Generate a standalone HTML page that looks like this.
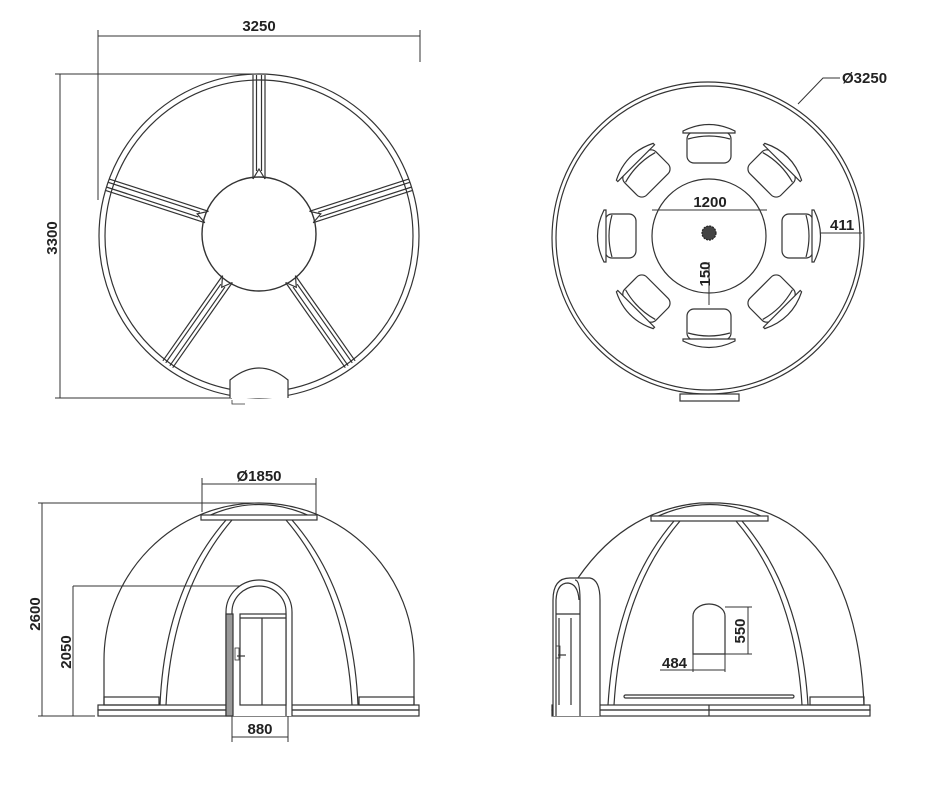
<!DOCTYPE html>
<html><head><meta charset="utf-8"><style>
html,body{margin:0;padding:0;background:#fff;}
svg{display:block;}
text{font-family:"Liberation Sans",Arial,sans-serif;font-weight:bold;font-size:15px;fill:#222;}
</style></head><body>
<svg width="941" height="787" viewBox="0 0 941 787" xmlns="http://www.w3.org/2000/svg">
<defs>
<g id="chair" fill="#fff" stroke="#333" stroke-width="1.2">
<rect x="-22" y="-13" width="44" height="31" rx="7"/>
<path d="M-26,-14 Q0,-27 26,-14 L26,-12 L-26,-12 Z"/>
<path d="M-21,-6 Q0,-12 21,-6" fill="none"/>
</g>
<g id="spoke" stroke="#333" stroke-width="1.2" fill="none">
<line x1="-6" y1="0" x2="-6" y2="-104"/>
<line x1="6" y1="0" x2="6" y2="-104"/>
<line x1="-2.5" y1="-8" x2="-2.5" y2="-104"/>
<line x1="2.5" y1="-8" x2="2.5" y2="-104"/>
<path d="M-6,0 L0,-10 L6,0"/>
</g>
</defs>
<g stroke="#333" fill="none" stroke-width="1.2">
<!-- TOP LEFT PLAN -->
<line x1="98" y1="36" x2="420" y2="36" stroke-width="1"/>
<line x1="98" y1="30" x2="98" y2="200" stroke-width="1"/>
<line x1="420" y1="30" x2="420" y2="62" stroke-width="1"/>
<line x1="60" y1="74" x2="60" y2="398" stroke-width="1"/>
<line x1="55" y1="74" x2="259" y2="74" stroke-width="1"/>
<line x1="55" y1="398" x2="232" y2="398" stroke-width="1"/>
<ellipse cx="259" cy="236" rx="160" ry="162"/>
<ellipse cx="259" cy="236" rx="154" ry="156"/>
<circle cx="259" cy="234" r="57" stroke-width="1.4"/>
<g transform="translate(259,234) rotate(0) translate(0,-55)"><use href="#spoke"/></g>
<g transform="translate(259,234) rotate(-72) translate(0,-55)"><use href="#spoke"/></g>
<g transform="translate(259,234) rotate(72) translate(0,-55)"><use href="#spoke"/></g>
<g transform="translate(259,234) rotate(-145) translate(0,-55)"><use href="#spoke"/></g>
<g transform="translate(259,234) rotate(145) translate(0,-55)"><use href="#spoke"/></g>
<path d="M230,398 L230,380 Q259,356 288,380 L288,398" fill="#fff"/>
<path d="M232,400 L232,404 L245,404" stroke-width="0.8"/>
<!-- TOP RIGHT PLAN -->
<circle cx="708" cy="238" r="156"/>
<circle cx="708" cy="238" r="152"/>
<circle cx="709" cy="236" r="57"/>
<rect x="680" y="394" width="59" height="7" fill="#fff"/>
<path d="M798,104 L823,78 L840,78" stroke-width="1"/>
<line x1="652" y1="210" x2="767" y2="210" stroke-width="1"/>
<line x1="709" y1="262" x2="709" y2="305" stroke-width="1"/>
<line x1="815" y1="233" x2="862" y2="233" stroke-width="1"/>
<g transform="translate(709,236) rotate(0) translate(0,-91)"><use href="#chair"/></g>
<g transform="translate(709,236) rotate(45) translate(0,-91)"><use href="#chair"/></g>
<g transform="translate(709,236) rotate(90) translate(0,-91)"><use href="#chair"/></g>
<g transform="translate(709,236) rotate(135) translate(0,-91)"><use href="#chair"/></g>
<g transform="translate(709,236) rotate(180) translate(0,-91)"><use href="#chair"/></g>
<g transform="translate(709,236) rotate(225) translate(0,-91)"><use href="#chair"/></g>
<g transform="translate(709,236) rotate(270) translate(0,-91)"><use href="#chair"/></g>
<g transform="translate(709,236) rotate(315) translate(0,-91)"><use href="#chair"/></g>
<circle cx="709" cy="233" r="7" fill="#444" stroke="#222" stroke-dasharray="2 1"/>
<!-- BOTTOM LEFT ELEVATION -->
<line x1="202" y1="484" x2="316" y2="484" stroke-width="1"/>
<line x1="202" y1="478" x2="202" y2="512" stroke-width="1"/>
<line x1="316" y1="478" x2="316" y2="518" stroke-width="1"/>
<line x1="42" y1="503" x2="42" y2="716" stroke-width="1"/>
<line x1="38" y1="503" x2="259" y2="503" stroke-width="1"/>
<line x1="73" y1="586" x2="73" y2="716" stroke-width="1"/>
<line x1="73" y1="586" x2="240" y2="586" stroke-width="1"/>
<line x1="38" y1="716" x2="95" y2="716" stroke-width="1"/>
<path d="M104,705 L104,660 A155,157 0 0 1 414,660 L414,705"/>
<path d="M202,519 Q259,490 316,519"/>
<rect x="201" y="515" width="116" height="5" fill="#fff"/>
<path d="M226,520 Q165,590 160,705 M232,520 Q172,590 166,705"/>
<path d="M292,520 Q353,590 358,705 M286,520 Q346,590 352,705"/>
<rect x="104" y="697" width="55" height="8"/>
<rect x="359" y="697" width="55" height="8"/>
<rect x="98" y="705" width="321" height="5"/>
<rect x="98" y="710" width="321" height="6"/>
<path d="M226,716 L226,612 A33,32 0 0 1 292,612 L292,716" fill="#fff"/>
<path d="M232,716 L232,612 A27,26 0 0 1 286,612 L286,716"/>
<rect x="226" y="614" width="7" height="102" fill="#999"/>
<rect x="240" y="614" width="46" height="91" fill="#fff"/>
<line x1="240" y1="618" x2="286" y2="618"/>
<line x1="262" y1="618" x2="262" y2="705"/>
<rect x="235" y="648" width="4" height="12" stroke-width="0.8"/>
<line x1="237" y1="656" x2="245" y2="656"/>
<line x1="232" y1="737" x2="288" y2="737" stroke-width="1"/>
<line x1="232" y1="716" x2="232" y2="742" stroke-width="1"/>
<line x1="288" y1="716" x2="288" y2="742" stroke-width="1"/>
<!-- BOTTOM RIGHT ELEVATION -->
<path d="M578,578 Q625,510 700,503 L720,503 Q855,510 864,705"/>
<path d="M652,519 Q710,490 767,519"/>
<rect x="651" y="516" width="117" height="5" fill="#fff"/>
<path d="M674,521 Q615,590 608,705 M680,521 Q621,590 614,705"/>
<path d="M742,521 Q801,590 808,705 M736,521 Q795,590 802,705"/>
<rect x="624" y="695" width="170" height="3" rx="1.5"/>
<rect x="810" y="697" width="54" height="8"/>
<rect x="552" y="705" width="318" height="5"/>
<rect x="552" y="710" width="318" height="6"/>
<line x1="709" y1="705" x2="709" y2="716"/>
<path d="M553,716 L553,600 Q553,578 570,578 L590,578 Q600,580 600,600 L600,716" fill="#fff"/>
<path d="M580,716 L580,600 Q580,580 575,580"/>
<path d="M556,716 L556,600 Q557,583 568,583 Q578,584 579,600"/>
<line x1="556" y1="614" x2="580" y2="614"/>
<line x1="559" y1="618" x2="559" y2="705"/>
<line x1="571" y1="618" x2="571" y2="705"/>
<rect x="556" y="646" width="4" height="12" stroke-width="0.8"/>
<line x1="558" y1="655" x2="566" y2="655"/>
<path d="M693,654 L693,616 A16,12 0 0 1 725,616 L725,654 Z"/>
<line x1="725" y1="607" x2="752" y2="607" stroke-width="1"/>
<line x1="725" y1="654" x2="752" y2="654" stroke-width="1"/>
<line x1="748" y1="607" x2="748" y2="654" stroke-width="1"/>
<line x1="693" y1="654" x2="693" y2="672" stroke-width="1"/>
<line x1="725" y1="654" x2="725" y2="672" stroke-width="1"/>
<line x1="660" y1="670" x2="725" y2="670" stroke-width="1"/>
</g>
<text x="259" y="31" text-anchor="middle">3250</text>
<text transform="translate(57,238) rotate(-90)" text-anchor="middle">3300</text>
<text x="842" y="83">Ø3250</text>
<text x="710" y="207" text-anchor="middle">1200</text>
<text transform="translate(710,274) rotate(-90)" text-anchor="middle">150</text>
<text x="830" y="230">411</text>
<text x="259" y="481" text-anchor="middle">Ø1850</text>
<text transform="translate(40,614) rotate(-90)" text-anchor="middle">2600</text>
<text transform="translate(71,652) rotate(-90)" text-anchor="middle">2050</text>
<text x="260" y="734" text-anchor="middle">880</text>
<text transform="translate(745,631) rotate(-90)" text-anchor="middle">550</text>
<text x="662" y="668">484</text>
</svg>
</body></html>
